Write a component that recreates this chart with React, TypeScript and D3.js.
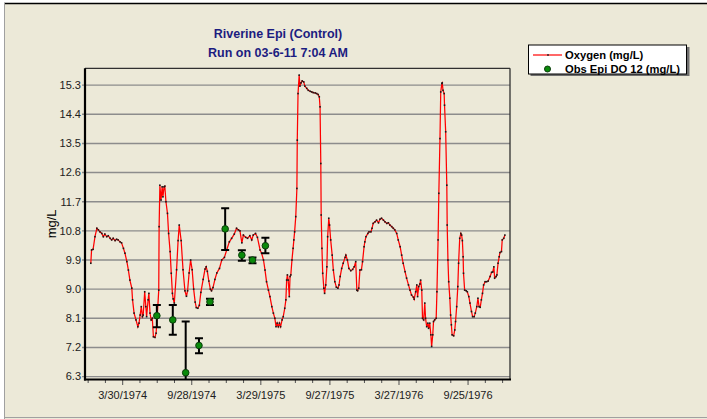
import React from "react";
import * as d3 from "d3";

const W = 707;
const H = 419;

// Simulation output: day number counted from 1 Jan 1974, and dissolved oxygen (mg/L)
const oxygenDay = [
  4, 6, 10, 15, 20, 24, 28, 33, 37, 41, 46, 50, 55, 59, 63, 68, 72, 76, 81, 85,
  90, 94, 99, 103, 107, 112, 114, 118, 123, 128, 131, 134, 137, 140, 142, 146, 149, 151, 155, 157,
  160, 163, 166, 169, 173, 176, 179, 183, 184, 186, 189, 192, 194, 197, 199, 202, 206, 209, 213, 216,
  219, 221, 224, 230, 234, 237, 242, 247, 252, 256, 259, 263, 267, 271, 275, 279, 282, 286, 290, 294,
  300, 305, 308, 311, 315, 319, 322, 326, 331, 336, 343, 349, 356, 362, 369, 375, 382, 388, 393, 397,
  402, 406, 412, 417, 423, 428, 432, 438, 443, 450, 454, 459, 463, 467, 472, 476, 481, 485, 489, 492,
  495, 498, 501, 504, 508, 511, 515, 518, 520, 522, 524, 527, 529, 531, 534, 537, 539, 541, 544, 547,
  548, 550, 553, 555, 558, 561, 565, 568, 573, 577, 582, 586, 590, 595, 599, 603, 606, 608, 610, 611,
  613, 615, 618, 620, 623, 626, 628, 631, 633, 636, 640, 643, 647, 651, 655, 658, 661, 665, 669, 674,
  676, 680, 684, 689, 694, 698, 702, 705, 707, 710, 713, 717, 720, 724, 726, 729, 734, 737, 742, 745,
  748, 753, 757, 762, 766, 770, 775, 779, 784, 788, 792, 797, 801, 805, 810, 814, 819, 823, 827, 832,
  836, 841, 845, 849, 854, 856, 860, 863, 865, 868, 871, 873, 876, 878, 881, 884, 886, 889, 892, 894,
  897, 900, 902, 905, 907, 910, 914, 916, 919, 921, 924, 926, 929, 930, 932, 935, 936, 939, 942, 943,
  945, 947, 950, 952, 954, 956, 960, 963, 965, 968, 971, 973, 976, 979, 981, 983, 985, 986, 989, 993,
  996, 1000, 1003, 1007, 1010, 1014, 1017, 1021, 1024, 1027, 1030, 1033, 1036, 1039, 1043, 1047, 1051, 1056, 1060, 1063,
  1066, 1068, 1072, 1074, 1077, 1080, 1082, 1086, 1088, 1092, 1095,
];
const oxygenValue = [
  9.8, 10.21, 10.23, 10.62, 10.88, 10.83, 10.77, 10.72, 10.62, 10.7, 10.62, 10.65, 10.57, 10.52, 10.57, 10.5, 10.54, 10.52, 10.46, 10.43,
  10.26, 10.11, 9.85, 9.59, 9.28, 9.03, 8.67, 8.26, 8.05, 7.84, 7.95, 8.2, 8.46, 8.15, 8.2, 8.92, 8.46, 8.15, 8.67, 8.87,
  8.26, 8.05, 8.1, 7.53, 7.51, 7.64, 8.15, 8.97, 10.93, 12.21, 11.75, 12.16, 11.85, 12.16, 12.18, 11.7, 11.34, 10.72, 10.16, 9.49,
  8.87, 8.7, 8.57, 9.6, 10.5, 10.98, 10.5, 9.6, 8.95, 8.78, 8.95, 9.5, 9.9, 9.6, 9.0, 8.6, 8.43, 8.41, 8.5, 8.9,
  9.3, 9.62, 9.69, 9.55, 9.25, 9.0, 8.95, 9.05, 9.3, 9.5, 9.64, 9.9, 9.98, 10.21, 10.46, 10.57, 10.7, 10.88, 10.83, 10.8,
  10.43, 10.67, 10.6, 10.57, 10.65, 10.52, 10.67, 10.72, 10.6, 10.21, 10.11, 9.9, 9.59, 9.23, 8.97, 8.77, 8.46, 8.26, 8.1, 7.84,
  7.95, 7.84, 7.95, 7.84, 8.05, 8.15, 8.41, 8.67, 9.28, 9.44, 9.28, 8.77, 9.39, 9.44, 9.9, 10.26, 10.52, 10.77, 11.24, 12.11,
  13.6, 15.04, 15.61, 15.27, 15.37, 15.43, 15.4, 15.27, 15.2, 15.14, 15.11, 15.09, 15.07, 15.06, 15.04, 15.01, 14.94, 14.63, 12.88, 11.29,
  10.26, 9.49, 9.03, 8.87, 9.13, 9.69, 10.62, 11.19, 10.98, 10.52, 10.05, 9.59, 9.23, 9.06, 9.03, 9.13, 9.39, 9.64, 9.8, 9.98,
  10.05, 9.9, 9.64, 9.57, 9.61, 9.69, 9.85, 8.97, 8.95, 9.03, 9.59, 9.6, 9.85, 10.31, 10.46, 10.62, 10.72, 10.77, 10.77, 10.88,
  11.03, 11.08, 11.13, 11.05, 11.16, 11.19, 11.13, 11.08, 11.03, 11.05, 10.98, 10.93, 10.88, 10.83, 10.72, 10.52, 10.31, 10.05, 9.8, 9.54,
  9.34, 9.13, 8.97, 8.82, 8.75, 8.69, 8.92, 9.13, 8.77, 9.08, 9.16, 9.28, 8.97, 8.1, 8.05, 8.57, 8.1, 7.84, 7.95, 7.79,
  7.95, 7.59, 7.23, 7.59, 8.0, 8.05, 8.1, 8.92, 10.52, 11.96, 13.65, 15.09, 15.35, 15.37, 15.14, 15.04, 14.68, 13.86, 12.21, 10.98,
  9.9, 9.23, 8.72, 8.2, 7.9, 7.59, 7.56, 7.74, 8.0, 8.46, 9.08, 9.8, 10.57, 10.72, 10.67, 10.5, 10.0, 9.49, 8.97, 8.95,
  8.92, 8.77, 8.57, 8.31, 8.15, 8.15, 8.26, 8.46, 8.72, 8.46, 8.44, 8.67, 8.87, 9.13, 9.23, 9.23, 9.25, 9.39, 9.52, 9.53,
  9.69, 9.34, 9.39, 9.44, 9.8, 10.0, 10.13, 10.16, 10.52, 10.57, 10.67,
];

// Observed epilimnion DO with error bars
const obsDay = [178, 220, 254, 289, 318, 358, 402, 430, 464];
const obsValue = [8.18, 8.05, 6.42, 7.26, 8.61, 10.86, 10.05, 9.9, 10.34];
const obsLow = [7.82, 7.59, 4.84, 7.02, 8.51, 10.21, 9.88, 9.8, 10.11];
const obsHigh = [8.51, 8.51, 8.0, 7.48, 8.7, 11.5, 10.2, 9.98, 10.59];

const yTicks = [6.3, 7.2, 8.1, 9.0, 9.9, 10.8, 11.7, 12.6, 13.5, 14.4, 15.3];
const xTickLabels = ["3/30/1974", "9/28/1974", "3/29/1975", "9/27/1975", "3/27/1976", "9/25/1976"];

const titleLines = ["Riverine Epi (Control)", "Run on 03-6-11 7:04 AM"];
const legendLabels = ["Oxygen (mg/L)", "Obs Epi DO 12 (mg/L)"];

const FONT = "Arial, 'Liberation Sans', sans-serif";
const BG = "#ECE9D8";
const DAY_MS = 86400000;

const base = new Date(1974, 0, 1).getTime();
const dayToDate = (d: number) => new Date(base + d * DAY_MS);
const parseLabel = (s: string) => {
  const [m, d, y] = s.split("/").map(Number);
  return new Date(y, m - 1, d);
};

export default function App() {
  const left = 85, right = 510, top = 68.3, bottom = 379.5;

  const x = d3
    .scaleTime()
    .domain([dayToDate(-11.3), dayToDate(1108.5)])
    .range([left, right]);
  const y = d3.scaleLinear().domain([6.21, 15.82]).range([bottom, top]);

  const oxy = oxygenDay.map((d, i) => ({ date: dayToDate(d), v: oxygenValue[i] }));
  const lineGen = d3
    .line<{ date: Date; v: number }>()
    .x((p) => x(p.date))
    .y((p) => y(p.v));

  const majorDates = xTickLabels.map(parseLabel);
  const step = (majorDates[1].getTime() - majorDates[0].getTime()) / 4;
  const minorTicks: { t: Date; major: boolean }[] = [];
  for (let k = -4; k < 40; k++) {
    const t = new Date(majorDates[0].getTime() + k * step);
    if (t < x.domain()[0] || t > x.domain()[1]) continue;
    minorTicks.push({ t, major: k % 4 === 0 });
  }

  return (
    <svg
      width={W}
      height={H}
      style={{ position: "absolute", left: 0, top: 0, fontFamily: FONT }}
    >
      <defs>
        <clipPath id="plotClip">
          <rect x={left} y={top} width={right - left} height={bottom - top} />
        </clipPath>
      </defs>
      <rect x={0} y={0} width={W} height={H} fill="#ffffff" />
      <rect x={4} y={3} width={W - 4} height={H - 3} fill={BG} />
      <line x1={4} y1={3.5} x2={W} y2={3.5} stroke="#000" strokeWidth={1.5} />
      <line x1={4.5} y1={3} x2={4.5} y2={H} stroke="#a0a0a0" strokeWidth={1} />
      <line x1={4} y1={417.5} x2={W} y2={417.5} stroke="#a0a0a0" strokeWidth={1} />

      {/* Title */}
      {titleLines.map((t, i) => (
        <text
          key={t}
          x={278}
          y={37.5 + i * 19}
          textAnchor="middle"
          fontSize={12.5}
          fontWeight="bold"
          fill="#1c1c80"
        >
          {t}
        </text>
      ))}

      {/* Grid lines */}
      {yTicks.map((t) => (
        <line
          key={t}
          x1={left - 3}
          x2={right}
          y1={y(t)}
          y2={y(t)}
          stroke="#8c8c8c"
          strokeWidth={1.4}
        />
      ))}

      {/* Plot frame top/right */}
      <line x1={left} x2={right} y1={top} y2={top} stroke="#303030" strokeWidth={1.3} />
      <line x1={right} x2={right} y1={top} y2={bottom} stroke="#303030" strokeWidth={1.3} />

      {/* Y tick labels */}
      {yTicks.map((t) => (
        <text
          key={"l" + t}
          x={81}
          y={y(t)}
          dy="0.35em"
          textAnchor="end"
          fontSize={11}
          fill="#202020"
        >
          {t.toFixed(1)}
        </text>
      ))}

      <text
        transform={`translate(56,${(top + bottom) / 2}) rotate(-90)`}
        textAnchor="middle"
        fontSize={13}
        fill="#000"
      >
        mg/L
      </text>

      {/* X ticks */}
      {minorTicks.map(({ t, major }, i) => (
        <line
          key={"xt" + i}
          x1={x(t)}
          x2={x(t)}
          y1={bottom}
          y2={bottom + (major ? 5.5 : 3.5)}
          stroke="#505050"
          strokeWidth={1}
        />
      ))}
      {majorDates.map((d, i) => (
        <text
          key={xTickLabels[i]}
          x={x(d)}
          y={399}
          textAnchor="middle"
          fontSize={11}
          fill="#202020"
        >
          {xTickLabels[i]}
        </text>
      ))}

      {/* Oxygen line */}
      <g clipPath="url(#plotClip)">
        <path d={lineGen(oxy) || ""} fill="none" stroke="#ff0000" strokeWidth={1.25} />
        {oxy.map((p, i) => (
          <rect
            key={"m" + i}
            x={x(p.date) - 0.8}
            y={y(p.v) - 0.8}
            width={1.6}
            height={1.6}
            fill="#1a1a1a"
          />
        ))}

        {/* Observations */}
        {obsDay.map((d, i) => {
          const cx = x(dayToDate(d));
          return (
            <g key={"o" + i}>
              <line
                x1={cx}
                x2={cx}
                y1={y(obsLow[i])}
                y2={y(obsHigh[i])}
                stroke="#000"
                strokeWidth={2}
              />
              <line x1={cx - 4} x2={cx + 4} y1={y(obsLow[i])} y2={y(obsLow[i])} stroke="#000" strokeWidth={2} />
              <line x1={cx - 4} x2={cx + 4} y1={y(obsHigh[i])} y2={y(obsHigh[i])} stroke="#000" strokeWidth={2} />
              <circle cx={cx} cy={y(obsValue[i])} r={3.3} fill="#0a8a0a" stroke="#0b3d0b" strokeWidth={1} />
            </g>
          );
        })}
      </g>

      {/* Axes */}
      <line x1={left} x2={left} y1={top} y2={bottom + 1} stroke="#000" strokeWidth={2.2} />
      <line x1={left - 1} x2={right + 1} y1={bottom} y2={bottom} stroke="#000" strokeWidth={2.2} />

      {/* Legend */}
      <rect x={530.5} y={47} width={159} height={29} fill="#6e6e6e" />
      <rect x={528.5} y={45} width={158} height={29} fill="#fff" stroke="#000" strokeWidth={1} />
      <line x1={533} x2={562} y1={55} y2={55} stroke="#ff0000" strokeWidth={1.2} />
      <rect x={547.2} y={54.2} width={1.6} height={1.6} fill="#1a1a1a" />
      <text x={565} y={55} dy="0.35em" fontSize={11.2} fontWeight="bold" fill="#000">
        {legendLabels[0]}
      </text>
      <circle cx={547.5} cy={69} r={3} fill="#0a8a0a" stroke="#0b3d0b" strokeWidth={1} />
      <text x={565} y={69} dy="0.35em" fontSize={11.2} fontWeight="bold" fill="#000">
        {legendLabels[1]}
      </text>
    </svg>
  );
}
